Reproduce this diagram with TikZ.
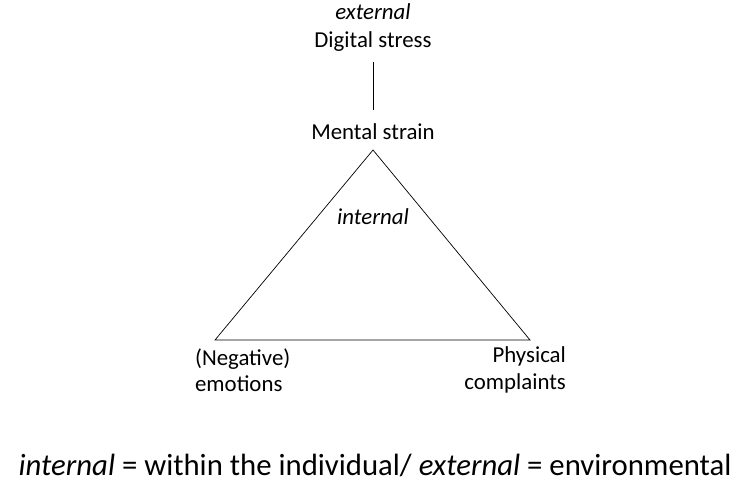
\documentclass[tikz,border=0pt]{standalone}
\usepackage{fontspec}
\setmainfont{Carlito}
\usetikzlibrary{positioning}
\tikzset{lbl/.style={font=\fontsize{13}{15}\selectfont, inner sep=1pt}}
\begin{document}
\begin{tikzpicture}[x=0.02cm,y=-0.02cm]
	\useasboundingbox (0,0) rectangle (750,480);
	\node [lbl] (ext) at (373,12) {\textit{external}};
	\node [lbl] (dig) at (373,42) {Digital stress};
	\node [lbl] (men) at (373,132) {Mental strain};
	\coordinate (top) at (373,150);
	\coordinate (bl) at (215,340);	\coordinate (br) at (530,340);
	\draw (373,62) coordinate (a) -- (a |- 0,110);
	\draw (top) -- (bl) -- (br) -- cycle;
	\node [lbl] (int) at (373,217) {\textit{internal}};
	\node [lbl, align=left, anchor=west] (neg) at (193,370) {(Negative)\\emotions};
	\node [lbl, align=right, anchor=east] (phy) at (568,370) {Physical\\complaints};
	\node [font=\fontsize{17.5}{21}\selectfont, inner sep=0pt] (leg) at (375,465) {\textit{internal} = within the individual/ \textit{external} = environmental};
\end{tikzpicture}
\end{document}
